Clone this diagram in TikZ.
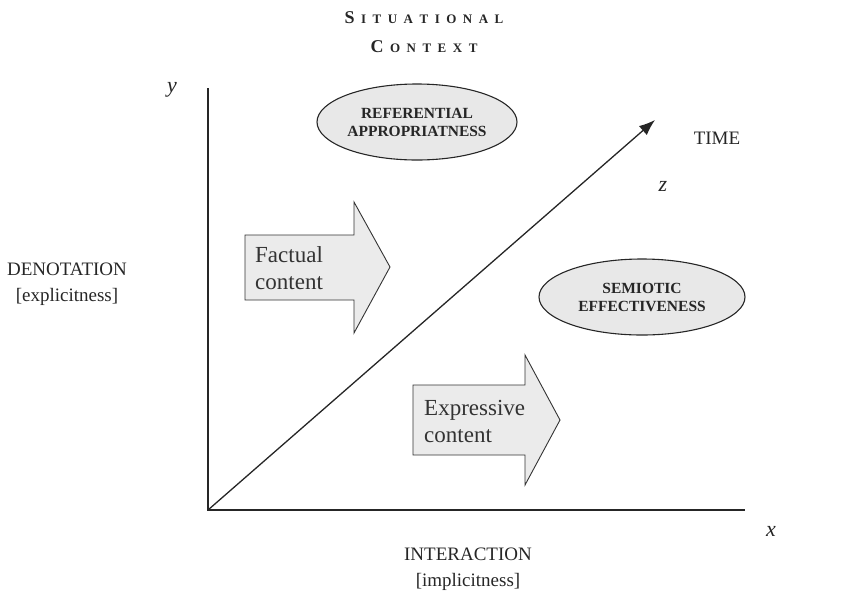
\documentclass[tikz,border=0pt]{standalone}
\usepackage{fontspec}
\setmainfont{Liberation Serif}
\usetikzlibrary{arrows.meta}
\newcommand{\tsp}{\hspace{6.5pt}}
\tikzset{
  lbl/.style={inner sep=0pt, font=\fontsize{19}{26}\selectfont, align=center, text=black!85},
  axislbl/.style={inner sep=0pt, font=\fontsize{22}{24}\selectfont\itshape, text=black!85},
  ellip/.style={draw=black!85, line width=1.1pt, fill=black!9},
  elltext/.style={inner sep=0pt, font=\fontsize{15.5}{18}\selectfont\bfseries, align=center, text=black!85},
  bigarrow/.style={draw=black!80, line width=0.9pt, fill=black!8, line join=miter},
  arrtext/.style={inner sep=0pt, font=\fontsize{23}{27}\selectfont, align=left, text=black!80},
  axis/.style={line width=1.3pt, draw=black!85},
  titletext/.style={inner sep=0pt, font=\bfseries\fontsize{13}{20}\selectfont, text=black!85},
}
\begin{document}
\begin{tikzpicture}[x=1pt,y=-1pt]
\useasboundingbox (0,0) rectangle (846,598);
% title
\node[titletext] (t1) at (424,18) {{\fontsize{18}{20}\selectfont S}\tsp I\tsp T\tsp U\tsp A\tsp T\tsp I\tsp O\tsp N\tsp A\tsp L};
\node[titletext] (t2) at (424,47) {{\fontsize{18}{20}\selectfont C}\tsp O\tsp N\tsp T\tsp E\tsp X\tsp T};
% axes
\coordinate (O) at (208,510);
\coordinate (ytop) at (208,88);
\coordinate (xend) at (745,510);
\coordinate (ztip) at (655,120);
\draw[axis] (ytop) -- (O) -- (xend);
\draw[axis, -{Latex[length=16pt,width=12pt]}] (O) -- (ztip);
% axis labels
\node[axislbl] (ylab) at (172,90) {y};
\node[axislbl] (xlab) at (771,531) {x};
\node[axislbl] (zlab) at (663,186) {z};
\node[lbl] (time) at (717,138) {TIME};
\node[lbl] (deno) at (67,284) {DENOTATION\\{[explicitness]}};
\node[lbl] (inter) at (468,569) {INTERACTION\\{[implicitness]}};
% ellipses
\draw[ellip] (417,122) ellipse [x radius=100, y radius=38];
\node[elltext] (refap) at (417,122) {REFERENTIAL\\APPROPRIATNESS};
\draw[ellip] (642,297) ellipse [x radius=103, y radius=38];
\node[elltext] (semeff) at (642,297) {SEMIOTIC\\EFFECTIVENESS};
% block arrows
\draw[bigarrow] (245,235) -- (354,235) -- (354,202) -- (390,267) -- (354,333) -- (354,300) -- (245,300) -- cycle;
\node[arrtext, anchor=west] (fact) at (255,268) {Factual\\content};
\draw[bigarrow] (413,385) -- (525,385) -- (525,355) -- (560,420) -- (525,485) -- (525,455) -- (413,455) -- cycle;
\node[arrtext, anchor=west] (expr) at (424,421) {Expressive\\content};
\end{tikzpicture}
\end{document}
